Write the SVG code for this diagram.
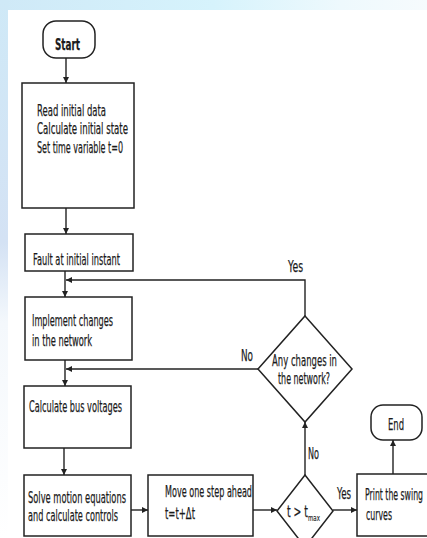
<svg xmlns="http://www.w3.org/2000/svg" width="427" height="538" viewBox="0 0 427 538">
<defs>
<linearGradient id="topg" x1="0" y1="0" x2="1" y2="0">
<stop offset="0" stop-color="#cfe9f7"/>
<stop offset="0.5" stop-color="#d6f3fc"/>
<stop offset="0.8" stop-color="#eef9fd"/>
<stop offset="1" stop-color="#f6fbfd"/>
</linearGradient>
<linearGradient id="leftg" x1="0" y1="0" x2="0" y2="1">
<stop offset="0" stop-color="#cfe9f7"/>
<stop offset="0.45" stop-color="#d4e2f4"/>
<stop offset="0.6" stop-color="#f4f8fc"/>
<stop offset="1" stop-color="#ffffff"/>
</linearGradient>
<marker id="ah" viewBox="0 0 10 10" refX="10" refY="5" markerWidth="6" markerHeight="6" markerUnits="userSpaceOnUse" orient="auto">
<path d="M0,0 L10,5 L0,10 z" fill="#222"/>
</marker>
<style>
.box{fill:#fff;stroke:#222;stroke-width:1.5}
.term{fill:#fff;stroke:#222;stroke-width:1.5}
.t{font-family:"DejaVu Sans","Liberation Sans",sans-serif;font-size:16px;fill:#1a1a1a;stroke:#1a1a1a;stroke-width:0.25}
.c{fill:none;stroke:#222;stroke-width:1.4;marker-end:url(#ah)}
</style>
</defs>
<rect x="0" y="0" width="427" height="538" fill="#fff"/>
<rect x="0" y="0" width="427" height="10" fill="url(#topg)"/>
<rect x="0" y="0" width="8" height="538" fill="url(#leftg)"/>

<g id="start">
<rect class="term" x="43" y="21" width="52" height="37" rx="13"/>
<text class="t" x="55" y="50" textLength="25" lengthAdjust="spacingAndGlyphs" font-weight="bold">Start</text>
</g>
<g id="init">
<rect class="box" x="22" y="83" width="112" height="125"/>
<text class="t" x="37" y="116" textLength="69" lengthAdjust="spacingAndGlyphs">Read initial data</text>
<text class="t" x="37" y="134" textLength="91" lengthAdjust="spacingAndGlyphs">Calculate initial state</text>
<text class="t" x="37" y="153" textLength="86" lengthAdjust="spacingAndGlyphs">Set time variable t=0</text>
</g>
<g id="fault">
<rect class="box" x="25" y="234" width="108" height="37"/>
<text class="t" x="33" y="265" textLength="87" lengthAdjust="spacingAndGlyphs">Fault at initial instant</text>
</g>
<g id="implement">
<rect class="box" x="25" y="297" width="107" height="63"/>
<text class="t" x="32" y="326" textLength="81" lengthAdjust="spacingAndGlyphs">Implement changes</text>
<text class="t" x="32" y="346" textLength="60" lengthAdjust="spacingAndGlyphs">in the network</text>
</g>
<g id="busv">
<rect class="box" x="24" y="386" width="107" height="62"/>
<text class="t" x="29" y="412" textLength="93" lengthAdjust="spacingAndGlyphs">Calculate bus voltages</text>
</g>
<g id="solve">
<rect class="box" x="24" y="475" width="107" height="61"/>
<text class="t" x="28" y="503" textLength="98" lengthAdjust="spacingAndGlyphs">Solve motion equations</text>
<text class="t" x="28" y="521" textLength="90" lengthAdjust="spacingAndGlyphs">and calculate controls</text>
</g>
<g id="move">
<rect class="box" x="148" y="475" width="105" height="61"/>
<text class="t" x="165" y="497" textLength="87" lengthAdjust="spacingAndGlyphs">Move one step ahead</text>
<text class="t" x="165" y="519" textLength="30" lengthAdjust="spacingAndGlyphs">t=t+Δt</text>
</g>
<g id="tmax">
<polygon class="box" points="305,475 333,511 305,547 277,511"/>
<text class="t" x="287" y="517"><tspan textLength="21" lengthAdjust="spacingAndGlyphs">t &gt; t</tspan><tspan x="308" y="521" font-size="8" stroke-width="0.15" textLength="12" lengthAdjust="spacingAndGlyphs">max</tspan></text>
</g>
<g id="changes">
<polygon class="box" points="305,316 352,369 305,422 258,369"/>
<text class="t" x="272" y="366" textLength="65" lengthAdjust="spacingAndGlyphs">Any changes in</text>
<text class="t" x="278" y="384" textLength="52" lengthAdjust="spacingAndGlyphs">the network?</text>
</g>
<g id="print">
<rect class="box" x="357" y="474" width="80" height="62"/>
<text class="t" x="365" y="500" textLength="58" lengthAdjust="spacingAndGlyphs">Print the swing</text>
<text class="t" x="366" y="520" textLength="26" lengthAdjust="spacingAndGlyphs">curves</text>
</g>
<g id="end">
<rect class="term" x="371" y="405" width="51" height="35" rx="12"/>
<text class="t" x="388" y="430" textLength="16" lengthAdjust="spacingAndGlyphs">End</text>
</g>

<g id="connectors">
<path class="c" d="M66,58 V83"/>
<path class="c" d="M66,208 V234"/>
<path class="c" d="M65,271 V297"/>
<path class="c" d="M65,360 V386"/>
<path class="c" d="M64,448 V475"/>
<path class="c" d="M131,510 H148"/>
<path class="c" d="M253,510 H277"/>
<path class="c" d="M333,510 H357"/>
<path class="c" d="M305,475 V422"/>
<path class="c" d="M393,474 V440"/>
<path class="c" d="M305,316 V280 H66"/>
<path class="c" d="M258,369 H66"/>
<text class="t" x="288" y="272" textLength="15" lengthAdjust="spacingAndGlyphs">Yes</text>
<text class="t" x="241" y="361" textLength="12" lengthAdjust="spacingAndGlyphs">No</text>
<text class="t" x="308" y="459" textLength="11" lengthAdjust="spacingAndGlyphs">No</text>
<text class="t" x="337" y="499" textLength="14" lengthAdjust="spacingAndGlyphs">Yes</text>
</g>
</svg>
